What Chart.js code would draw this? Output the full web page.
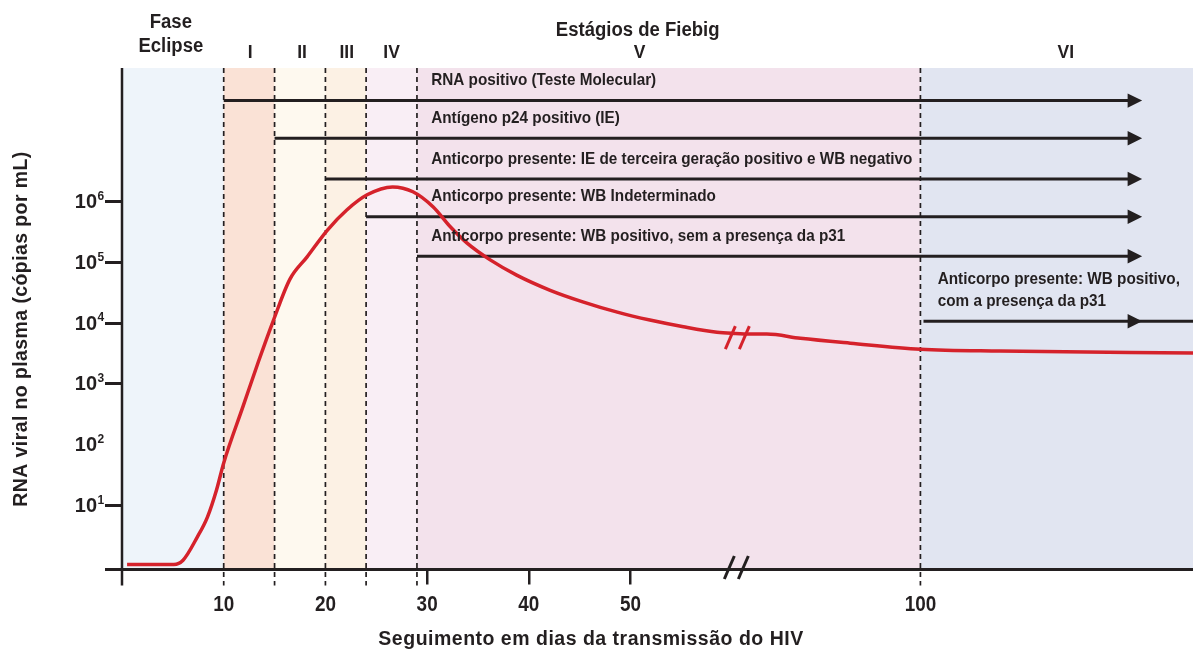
<!DOCTYPE html>
<html lang="pt-BR">
<head>
<meta charset="utf-8">
<title>Estágios de Fiebig</title>
<script src="https://cdn.jsdelivr.net/npm/chart.js@4.4.1/dist/chart.umd.min.js"></script>
<style>
  html, body { margin: 0; padding: 0; background: #fff; }
  #wrap { width: 1193px; height: 654px; position: relative; }
</style>
</head>
<body>
<div id="wrap"><canvas id="grafico"></canvas></div>
<script>
// carga viral: dias desde a transmissão x log10(cópias/mL)
const dias = [0.5, 5.1, 6.0, 7.4, 8.4, 9.3, 10.0, 11.9, 13.4, 14.9, 16.5, 18.2, 20.2,
  22.1, 24.1, 26.6, 28.6, 30.6, 32.3, 33.9, 36.2, 38.8, 42.1, 45.3, 48.7, 51.9, 55.2, 58.5, 60.2,
  83.3, 84.9, 88.2, 93.1, 100, 107.8, 126.8];
const logCarga = [0.03, 0.03, 0.10, 0.48, 0.81, 1.26, 1.70, 2.63, 3.36, 4.05, 4.72, 5.09, 5.53,
  5.86, 6.11, 6.24, 6.16, 5.91, 5.58, 5.32, 5.04, 4.79, 4.54, 4.35, 4.18, 4.05, 3.94, 3.85, 3.83,
  3.82, 3.82, 3.75, 3.67, 3.57, 3.54, 3.51];

const ticksDias = [10, 20, 30, 40, 50, 100];
const ticksLog = [1, 2, 3, 4, 5, 6];

// estágios (faixas coloridas)
const faixaInicio = [0, 10, 15, 20, 24, 29, 100];
const faixaFim = [10, 15, 20, 24, 29, 100, 130];
const estagios = ['I', 'II', 'III', 'IV', 'V', 'VI'];
const estagioDia = [12.6, 17.7, 22.1, 26.5, 50.9, 114.3];

// testes positivos (setas)
const testeNome = [
  'RNA positivo (Teste Molecular)',
  'Antígeno p24 positivo (IE)',
  'Anticorpo presente: IE de terceira geração positivo e WB negativo',
  'Anticorpo presente: WB Indeterminado',
  'Anticorpo presente: WB positivo, sem a presença da p31',
  'Anticorpo presente: WB positivo,\ncom a presença da p31'
];
const testeInicio = [10, 15, 20, 24, 29, 100.3];
const testeFim = [121, 121, 121, 121, 121, 128];
const testeNivel = [7.66, 7.04, 6.37, 5.75, 5.10, 4.03];
const testeRotuloDia = [30.4, 30.4, 30.4, 30.4, 30.4, 101.7];
const pontaSeta = 121.8;

// eixo x interrompido (//) entre estes dias
const CORTE_INI = 61, CORTE_FIM = 82.5;
const eixoX = d => d <= CORTE_INI ? d : d - (CORTE_FIM - CORTE_INI);

const TINTA = '#231f20';
const VERMELHO = '#d5222b';
const CORES = ['#eef4fa', '#fae2d6', '#fef9ef', '#fcf1e4', '#f9eef5', '#f3e2ec', '#e1e5f1'];
const FONTE = '"Liberation Sans", Arial, sans-serif';

// texto comprimido na horizontal (a figura usa uma fonte condensada)
function texto(ctx, s, px, py, k, alinh) {
  ctx.save();
  ctx.translate(px, py);
  ctx.scale(k, 1);
  ctx.textAlign = alinh;
  ctx.fillText(s, 0, 0);
  ctx.restore();
}

function barras(ctx, cx, cy, cor) {
  ctx.save();
  ctx.strokeStyle = cor;
  ctx.lineWidth = 3;
  [-7, 7].forEach(dx => {
    ctx.beginPath();
    ctx.moveTo(cx + dx - 5, cy + 11.5);
    ctx.lineTo(cx + dx + 5, cy - 11.5);
    ctx.stroke();
  });
  ctx.restore();
}

const decoracao = {
  id: 'decoracao',
  beforeDatasetsDraw(chart) {
    const { ctx, chartArea: a, scales: { x } } = chart;
    ctx.save();
    faixaInicio.forEach((ini, i) => {
      const x0 = x.getPixelForValue(eixoX(ini));
      const x1 = Math.min(x.getPixelForValue(eixoX(faixaFim[i])), a.right);
      ctx.fillStyle = CORES[i];
      ctx.fillRect(x0, a.top, x1 - x0, a.bottom - a.top);
    });
    ctx.strokeStyle = TINTA;
    ctx.lineWidth = 1.7;
    ctx.setLineDash([5, 4]);
    faixaInicio.slice(1).forEach(d => {
      const px = x.getPixelForValue(eixoX(d));
      ctx.beginPath();
      ctx.moveTo(px, a.top);
      ctx.lineTo(px, a.bottom + 16);
      ctx.stroke();
    });
    ctx.restore();
  },
  afterDatasetsDraw(chart) {
    const { ctx, chartArea: a, scales: { x, y } } = chart;
    ctx.save();
    // pontas das setas
    ctx.fillStyle = TINTA;
    testeNivel.forEach(n => {
      const px = x.getPixelForValue(eixoX(pontaSeta));
      const py = y.getPixelForValue(n);
      ctx.beginPath();
      ctx.moveTo(px, py);
      ctx.lineTo(px - 14.5, py - 7.2);
      ctx.lineTo(px - 14.5, py + 7.2);
      ctx.closePath();
      ctx.fill();
    });
    // eixos
    ctx.strokeStyle = TINTA;
    ctx.lineWidth = 3;
    ctx.beginPath();
    ctx.moveTo(a.left - 17, a.bottom);
    ctx.lineTo(a.right, a.bottom);
    ctx.stroke();
    ctx.lineWidth = 2.5;
    ctx.beginPath();
    ctx.moveTo(a.left, a.top);
    ctx.lineTo(a.left, a.bottom + 16);
    ctx.stroke();
    // interrupções
    barras(ctx, x.getPixelForValue(60.5), y.getPixelForValue(3.76), VERMELHO);
    barras(ctx, x.getPixelForValue(60.4), a.bottom - 2, TINTA);

    ctx.fillStyle = TINTA;
    ctx.textBaseline = 'middle';

    // rótulos dos testes
    ctx.font = 'bold 17px ' + FONTE;
    testeNome.forEach((t, i) => {
      const px = x.getPixelForValue(eixoX(testeRotuloDia[i]));
      const py = y.getPixelForValue(testeNivel[i]);
      const linhas = t.split('\n');
      linhas.forEach((l, k) => {
        texto(ctx, l, px, py - 20 - (linhas.length - 1 - k) * 22, 0.9, 'left');
      });
    });

    // rótulos do eixo x
    ctx.font = 'bold 22px ' + FONTE;
    ticksDias.forEach(d => texto(ctx, String(d), x.getPixelForValue(eixoX(d)), 605, 0.86, 'center'));

    // cabeçalho
    ctx.font = 'bold 19.5px ' + FONTE;
    texto(ctx, 'Fase', x.getPixelForValue(4.8), 23, 0.95, 'center');
    texto(ctx, 'Eclipse', x.getPixelForValue(4.8), 47, 0.95, 'center');
    texto(ctx, 'Estágios de Fiebig', x.getPixelForValue(50.7), 31, 0.95, 'center');
    ctx.font = 'bold 19px ' + FONTE;
    estagios.forEach((e, i) => texto(ctx, e, x.getPixelForValue(eixoX(estagioDia[i])), 53, 0.92, 'center'));

    // rótulos do eixo y (potências de 10)
    ticksLog.forEach(v => {
      const py = y.getPixelForValue(v);
      ctx.font = 'bold 20px ' + FONTE;
      texto(ctx, '10', 97, py + 1, 1, 'right');
      ctx.font = 'bold 12px ' + FONTE;
      texto(ctx, String(v), 97.5, py - 5, 1, 'left');
    });

    // títulos dos eixos
    ctx.font = 'bold 19.5px ' + FONTE;
    ctx.letterSpacing = '0.5px';
    texto(ctx, 'Seguimento em dias da transmissão do HIV', 591, 640, 1, 'center');
    ctx.translate(22, 329);
    ctx.rotate(-Math.PI / 2);
    ctx.letterSpacing = '0.4px';
    texto(ctx, 'RNA viral no plasma (cópias por mL)', 0, 0, 1, 'center');
    ctx.restore();
  }
};

const conjuntos = [{
  label: 'Carga viral',
  data: dias.map((d, i) => ({ x: eixoX(d), y: logCarga[i] })),
  borderColor: VERMELHO,
  borderWidth: 3.5,
  pointRadius: 0,
  cubicInterpolationMode: 'monotone',
  order: 0
}];
testeNome.forEach((t, i) => {
  conjuntos.push({
    label: t,
    data: [{ x: eixoX(testeInicio[i]), y: testeNivel[i] }, { x: eixoX(testeFim[i]), y: testeNivel[i] }],
    borderColor: TINTA,
    borderWidth: 3,
    borderCapStyle: 'butt',
    pointRadius: 0,
    tension: 0,
    order: 1
  });
});

new Chart(document.getElementById('grafico'), {
  type: 'line',
  data: { datasets: conjuntos },
  options: {
    responsive: true,
    maintainAspectRatio: false,
    animation: false,
    layout: { padding: { top: 68, right: 0, left: 0, bottom: 0 } },
    plugins: { legend: { display: false }, tooltip: { enabled: false } },
    scales: {
      x: {
        type: 'linear',
        min: 0,
        max: eixoX(126.8),
        afterBuildTicks: s => { s.ticks = ticksDias.map(d => ({ value: eixoX(d) })); },
        afterFit: s => { s.height = 84.5; },
        border: { display: false },
        grid: {
          drawOnChartArea: false,
          tickLength: 15,
          lineWidth: 2.5,
          color: c => (c.tick && [10, 20, 100].map(eixoX).includes(c.tick.value)) ? 'rgba(0,0,0,0)' : TINTA
        },
        ticks: { display: false }
      },
      y: {
        type: 'linear',
        min: -0.053,
        max: 8.196,
        afterBuildTicks: s => { s.ticks = ticksLog.map(v => ({ value: v })); },
        afterFit: s => { s.width = 122; },
        border: { display: false },
        grid: {
          drawOnChartArea: false,
          tickLength: 17,
          lineWidth: 3,
          color: c => (c.tick && c.tick.value === 2) ? 'rgba(0,0,0,0)' : TINTA
        },
        ticks: { display: false }
      }
    }
  },
  plugins: [decoracao]
});
</script>
</body>
</html>
